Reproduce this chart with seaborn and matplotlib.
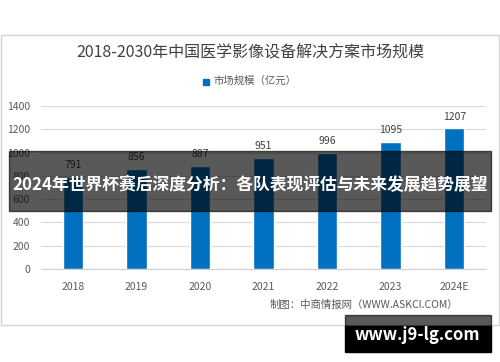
import matplotlib
matplotlib.use('Agg')
import matplotlib.pyplot as plt
import pandas as pd
import seaborn as sns
from matplotlib.patches import Rectangle

# data
years = ['2018', '2019', '2020', '2021', '2022', '2023', '2024E']
market_size = [791, 856, 887, 951, 996, 1095, 1207]
y_ticks = [0, 200, 400, 600, 800, 1000, 1200, 1400]

title = '2018-2030年中国医学影像设备解决方案市场规模'
legend_label = '市场规模（亿元）'
source = '制图：中商情报网（WWW.ASKCI.COM）'
banner = '2024年世界杯赛后深度分析：各队表现评估与未来发展趋势展望'
site = 'www.j9-lg.com'

df = pd.DataFrame({'year': years, 'value': market_size})

sns.set_style('white')
plt.rcParams['font.family'] = ['Noto Sans CJK SC', 'DejaVu Sans']

W, H = 500, 362
fig = plt.figure(figsize=(5, 3.62), dpi=100)

def fx(px):
    return px / W

def fy(py):
    return 1 - py / H

# chart frame
fig.patches.append(Rectangle((fx(0.5), fy(325)), fx(498.5), 290 / H, transform=fig.transFigure,
                             fill=False, edgecolor='#d4d4d4', linewidth=1.0, zorder=0))

ax = fig.add_axes([fx(41), fy(269), fx(486) - fx(41), 163 / H])
sns.barplot(data=df, x='year', y='value', color='#0070C0', width=0.32, ax=ax, saturation=1)
ax.set_ylim(0, 1400)
ax.set_yticks(y_ticks)
ax.set_xlim(-0.5, len(years) - 0.5)
ax.yaxis.grid(True, color='#d9d9d9', linewidth=0.8)
ax.set_axisbelow(True)
for s in ['top', 'right', 'left']:
    ax.spines[s].set_visible(False)
ax.spines['bottom'].set_color('#d0d0d0')
ax.tick_params(axis='both', length=0, labelsize=7.5, labelcolor='#595959')
ax.tick_params(axis='x', pad=9)
ax.tick_params(axis='y', pad=8)
ax.set_xlabel('')
ax.set_ylabel('')

for i, v in enumerate(market_size):
    ax.annotate(str(v), (i, v), xytext=(0, 5), textcoords='offset points',
                ha='center', va='bottom', fontsize=7.5, color='#404040')

fig.text(0.5, fy(53), title, ha='center', va='center', fontsize=11.5, color='#404040')

# legend
fig.patches.append(Rectangle((fx(202.5), fy(84.5)), fx(6), 6 / H, transform=fig.transFigure,
                             color='#0070C0'))
fig.text(fx(213), fy(81), legend_label, ha='left', va='center', fontsize=7.5, color='#595959')

fig.text(fx(458), fy(305), source, ha='right', va='center', fontsize=7.5, color='#595959')

# dark banner over the chart
fig.patches.append(Rectangle((fx(9), fy(211)), fx(482), 60 / H, transform=fig.transFigure,
                             color='black', alpha=0.65, zorder=5))
fig.text(0.5, fy(185), banner, ha='center', va='center', fontsize=12.1, color='white',
         fontweight='bold', zorder=6)

# site box bottom right
fig.patches.append(Rectangle((fx(345), fy(326)), fx(146), 11 / H, transform=fig.transFigure,
                             color='black', alpha=0.65, zorder=5))
fig.patches.append(Rectangle((fx(345), fy(352)), fx(146), 26 / H, transform=fig.transFigure,
                             color='black', zorder=5))
fig.text(fx(417), fy(335), site, ha='center', va='center', fontsize=12, color='white',
         fontweight='bold', zorder=6)

fig.savefig('out.png', dpi=100)
